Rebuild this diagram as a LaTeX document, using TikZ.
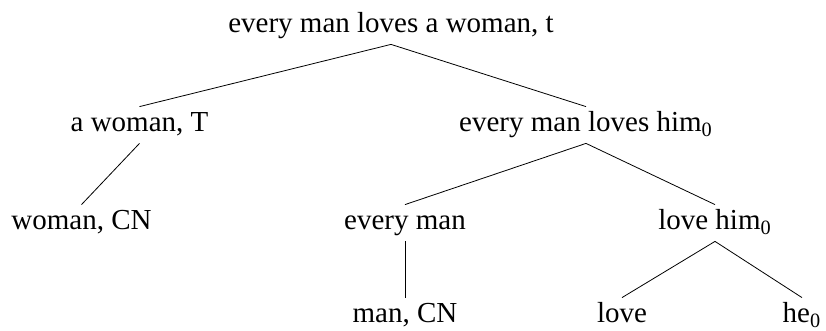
\documentclass[tikz,border=0pt]{standalone}
\usepackage{fontspec}
\setmainfont{Liberation Serif}
\usepackage{tikz}

\begin{document}
\begin{tikzpicture}[x=0.5pt,y=-0.5pt,
    lbl/.style={anchor=base,inner sep=0pt,text height=12.5pt,text depth=5.5pt,font=\fontsize{14.5}{17}\selectfont},
    leaf/.style={lbl,text depth=3pt}]
\useasboundingbox (0,0) rectangle (826,331);

\node[lbl] (root) at (391,33) {every man loves a woman, t};

\node[lbl] (aw) at (139.5,132) {a woman, T};
\node[lbl] (emlh) at (586,132) {every man loves him\textsubscript{0}};

\node[lbl] (wcn) at (81.5,230) {woman, CN};
\node[lbl] (em) at (405,230) {every man};
\node[lbl] (lh) at (715,230) {love him\textsubscript{0}};

\node[leaf] (mcn) at (405,323) {man, CN};
\node[leaf] (love) at (622,323) {love};
\node[leaf] (he) at (802,323) {he\textsubscript{0}};

\draw (root.south)--(aw.north);
\draw (root.south)--(emlh.north);
\draw (aw.south)--(wcn.north);
\draw (emlh.south)--(em.north);
\draw (emlh.south)--(lh.north);
\draw (em.south)--(mcn.north);
\draw (lh.south)--(love.north);
\draw (lh.south)--(he.north);

\end{tikzpicture}
\end{document}
